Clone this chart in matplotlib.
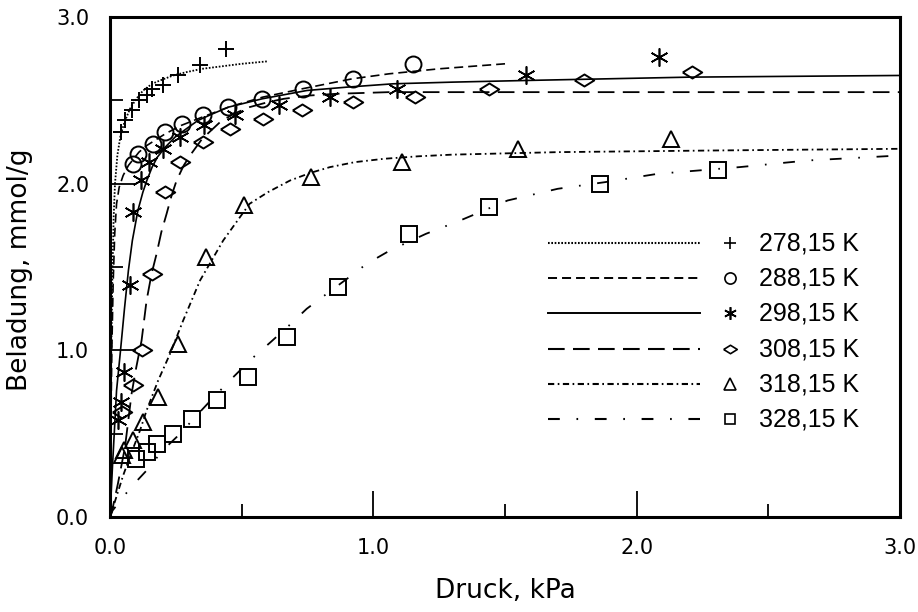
import matplotlib
matplotlib.use("Agg")
import matplotlib.pyplot as plt
from matplotlib.ticker import MultipleLocator, FormatStrFormatter

plt.rcParams["lines.scale_dashes"] = False

labels = ["278,15 K", "288,15 K", "298,15 K", "308,15 K", "318,15 K", "328,15 K"]

# measured points
p278_x = [0.04, 0.057, 0.082, 0.11, 0.14, 0.158, 0.20, 0.26, 0.34, 0.44]
p278_y = [2.31, 2.38, 2.44, 2.50, 2.53, 2.57, 2.59, 2.65, 2.71, 2.81]
p288_x = [0.088, 0.107, 0.164, 0.209, 0.272, 0.354, 0.449, 0.578, 0.734, 0.923, 1.15]
p288_y = [2.12, 2.18, 2.24, 2.31, 2.36, 2.41, 2.46, 2.51, 2.57, 2.63, 2.72]
p298_x = [0.031, 0.04, 0.053, 0.076, 0.088, 0.117, 0.149, 0.203, 0.266, 0.357, 0.475, 0.64, 0.835, 1.09, 1.58, 2.085]
p298_y = [0.58, 0.69, 0.87, 1.39, 1.83, 2.02, 2.13, 2.21, 2.28, 2.35, 2.41, 2.47, 2.52, 2.57, 2.65, 2.76]
p308_x = [0.045, 0.088, 0.122, 0.158, 0.209, 0.266, 0.354, 0.456, 0.58, 0.728, 0.923, 1.16, 1.44, 1.80, 2.21]
p308_y = [0.63, 0.79, 1.00, 1.46, 1.95, 2.13, 2.25, 2.33, 2.39, 2.44, 2.49, 2.52, 2.57, 2.62, 2.67]
p318_x = [0.044, 0.053, 0.088, 0.126, 0.181, 0.258, 0.365, 0.509, 0.762, 1.11, 1.55, 2.13]
p318_y = [0.37, 0.40, 0.46, 0.57, 0.72, 1.04, 1.56, 1.87, 2.04, 2.13, 2.21, 2.27]
p328_x = [0.10, 0.139, 0.177, 0.24, 0.31, 0.405, 0.523, 0.672, 0.865, 1.135, 1.44, 1.86, 2.31]
p328_y = [0.35, 0.39, 0.44, 0.50, 0.59, 0.70, 0.84, 1.08, 1.38, 1.70, 1.86, 2.00, 2.08]

# fitted curves
c278_x = [0, 0.002, 0.005, 0.009, 0.014, 0.019, 0.028, 0.04, 0.055, 0.076, 0.1, 0.126, 0.16, 0.19, 0.24, 0.29, 0.35, 0.40, 0.5, 0.6]
c278_y = [0, 0.5, 1.0, 1.45, 1.8, 2.0, 2.17, 2.29, 2.37, 2.45, 2.51, 2.56, 2.60, 2.62, 2.65, 2.67, 2.69, 2.70, 2.72, 2.735]
c288_x = [0, 0.003, 0.007, 0.012, 0.018, 0.025, 0.035, 0.05, 0.07, 0.09, 0.11, 0.14, 0.17, 0.21, 0.27, 0.35, 0.45, 0.58, 0.73, 0.92, 1.06, 1.25, 1.5]
c288_y = [0, 0.5, 1.0, 1.4, 1.7, 1.88, 1.98, 2.05, 2.11, 2.15, 2.19, 2.23, 2.26, 2.30, 2.35, 2.40, 2.46, 2.52, 2.57, 2.63, 2.66, 2.69, 2.72]
c298_x = [0, 0.01, 0.025, 0.04, 0.055, 0.07, 0.085, 0.106, 0.125, 0.14, 0.16, 0.18, 0.21, 0.247, 0.29, 0.334, 0.39, 0.45, 0.578, 0.748, 0.9, 1.075, 1.3, 1.58, 2.2, 3.0]
c298_y = [0, 0.32, 0.76, 1.0, 1.25, 1.48, 1.66, 1.84, 1.95, 2.02, 2.10, 2.16, 2.22, 2.28, 2.33, 2.38, 2.42, 2.46, 2.51, 2.56, 2.58, 2.60, 2.61, 2.62, 2.64, 2.65]
c308_x = [0, 0.011, 0.03, 0.057, 0.082, 0.1, 0.12, 0.139, 0.158, 0.177, 0.195, 0.215, 0.234, 0.253, 0.28, 0.304, 0.35, 0.418, 0.47, 0.53, 0.6, 0.66, 0.76, 0.86, 1.06, 1.5, 2.0, 3.0]
c308_y = [0, 0.06, 0.2, 0.42, 0.74, 0.9, 1.06, 1.3, 1.46, 1.58, 1.71, 1.82, 1.93, 2.02, 2.11, 2.17, 2.27, 2.37, 2.42, 2.46, 2.49, 2.51, 2.53, 2.54, 2.55, 2.55, 2.55, 2.55]
c318_x = [0, 0.02, 0.05, 0.08, 0.114, 0.139, 0.183, 0.228, 0.278, 0.342, 0.43, 0.53, 0.6, 0.684, 0.76, 0.835, 0.93, 1.04, 1.17, 1.3, 1.7, 2.3, 3.0]
c318_y = [0, 0.1, 0.25, 0.38, 0.52, 0.64, 0.82, 0.98, 1.18, 1.42, 1.66, 1.88, 1.95, 2.02, 2.065, 2.10, 2.13, 2.15, 2.165, 2.175, 2.19, 2.20, 2.21]
c328_x = [0, 0.01, 0.04, 0.08, 0.139, 0.2, 0.266, 0.335, 0.4, 0.468, 0.538, 0.61, 0.68, 0.747, 0.823, 0.9, 0.975, 1.063, 1.2, 1.33, 1.51, 1.7, 1.88, 2.08, 2.39, 2.65, 3.0]
c328_y = [0, 0.04, 0.10, 0.18, 0.28, 0.40, 0.50, 0.62, 0.73, 0.84, 0.95, 1.05, 1.15, 1.25, 1.34, 1.43, 1.52, 1.60, 1.70, 1.78, 1.90, 1.97, 2.01, 2.06, 2.10, 2.14, 2.17]

diamond = [(-1, 0), (0, 0.62), (1, 0), (0, -0.62), (-1, 0)]
star = (6, 2, 0)
markers = ["+", "o", star, diamond, "^", "s"]
msizes = [12, 11.5, 13, 14, 12, 11]
mews = [1.4, 1.4, 1.2, 1.4, 1.4, 1.4]
styles = [(0, (1.2, 1.2)), (0, (6.5, 3.6)), "-", (0, (12, 6)), (0, (4.5, 2.5, 1.2, 2.5)), (0, (8.5, 12, 1.2, 12))]
lwidths = [1.3, 1.2, 1.2, 1.3, 1.3, 1.3]

pts = [(p278_x, p278_y), (p288_x, p288_y), (p298_x, p298_y), (p308_x, p308_y), (p318_x, p318_y), (p328_x, p328_y)]
curves = [(c278_x, c278_y), (c288_x, c288_y), (c298_x, c298_y), (c308_x, c308_y), (c318_x, c318_y), (c328_x, c328_y)]

fig = plt.figure(figsize=(9.18, 6.12), dpi=100)
ax = fig.add_axes([0.1198, 0.155, 0.8606, 0.817])

for i in range(6):
    cx, cy = curves[i]
    ax.plot(cx, cy, color="black", ls=styles[i], lw=lwidths[i], clip_on=False)
    px, py = pts[i]
    ax.plot(px, py, ls="none", marker=markers[i], ms=msizes[i], mew=mews[i],
            mec="black", mfc="none", color="black")

# legend drawn by hand in axes coordinates
ly = [0.548, 0.478, 0.408, 0.336, 0.266, 0.196]
for i in range(6):
    ax.plot([0.554, 0.747], [ly[i], ly[i]], transform=ax.transAxes, color="black",
            ls=styles[i], lw=lwidths[i] + 0.2)
    ax.plot([0.785], [ly[i]], transform=ax.transAxes, ls="none", marker=markers[i],
            ms=msizes[i] * 0.7, mew=1.2, mec="black", mfc="none")
    ax.text(0.822, ly[i], labels[i], transform=ax.transAxes, fontsize=18,
            family="Liberation Sans", va="center", ha="left")

ax.set_xlim(0, 3)
ax.set_ylim(0, 3)
ax.xaxis.set_major_locator(MultipleLocator(1.0))
ax.xaxis.set_minor_locator(MultipleLocator(0.5))
ax.yaxis.set_major_locator(MultipleLocator(1.0))
ax.yaxis.set_minor_locator(MultipleLocator(0.5))
ax.xaxis.set_major_formatter(FormatStrFormatter("%.1f"))
ax.yaxis.set_major_formatter(FormatStrFormatter("%.1f"))
ax.tick_params(which="major", direction="in", length=19, width=1.3, pad=15, labelsize=15)
ax.tick_params(which="minor", direction="in", length=9.5, width=1.3)
ax.tick_params(which="both", top=False, right=False)
for s in ax.spines.values():
    s.set_linewidth(2.2)

ax.set_xlabel("Druck, kPa", fontsize=19)
ax.set_ylabel("Beladung, mmol/g", fontsize=19)
ax.xaxis.set_label_coords(0.5, -0.122)
ax.yaxis.set_label_coords(-0.098, 0.494)

fig.savefig("out.png", dpi=100)
